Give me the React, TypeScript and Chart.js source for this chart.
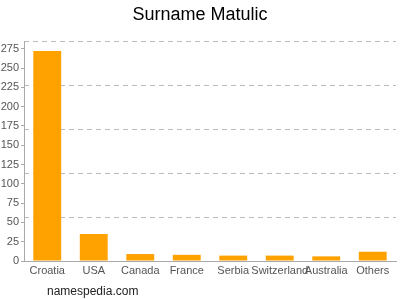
import React, { useEffect, useRef } from "react";
import { Chart, registerables } from "chart.js";

Chart.register(...registerables);

const categories = ["Croatia", "USA", "Canada", "France", "Serbia", "Switzerland", "Australia", "Others"];
const counts = [272, 35, 9, 8, 7, 7, 6, 12];
const yTicks = [0, 25, 50, 75, 100, 125, 150, 175, 200, 225, 250, 275];
const titleText = "Surname Matulic";
const footerText = "namespedia.com";

const FONT = "'Liberation Sans', Arial, Helvetica, sans-serif";

const textPlugin = {
  id: "texts",
  afterDraw(chart: any) {
    const ctx = chart.ctx;
    ctx.save();
    ctx.fillStyle = "#000";
    ctx.font = `18px ${FONT}`;
    ctx.textAlign = "center";
    ctx.textBaseline = "middle";
    ctx.fillText(titleText, 200, 15);
    ctx.fillStyle = "#222";
    ctx.font = `12px ${FONT}`;
    ctx.textAlign = "left";
    ctx.fillText(footerText, 47, 292);
    ctx.restore();
  },
};

export default function App() {
  const ref = useRef<HTMLCanvasElement>(null);
  useEffect(() => {
    document.body.style.margin = "0";
    const chart = new Chart(ref.current!, {
      type: "bar",
      data: {
        labels: categories,
        datasets: [
          {
            data: counts,
            backgroundColor: "#ffa200",
            borderWidth: 0,
            categoryPercentage: 0.6,
            barPercentage: 1,
            yAxisID: "y",
          },
        ],
      },
      options: {
        animation: false,
        responsive: false,
        layout: { padding: { top: 41, left: 0, right: 4, bottom: 19 } },
        plugins: { legend: { display: false }, title: { display: false }, tooltip: { enabled: false } },
        scales: {
          x: {
            grid: { display: false, drawTicks: false },
            border: { display: true, color: "#aaa" },
            ticks: { color: "#555", font: { family: FONT, size: 11 }, padding: 3, maxRotation: 0, autoSkip: false },
            afterFit(s: any) { s.height = 20; },
          },
          y: {
            position: "left",
            min: 0,
            max: 285,
            grid: { drawOnChartArea: false, tickLength: 3, color: "#aaa" },
            border: { display: true, color: "#aaa" },
            ticks: { color: "#555", font: { family: FONT, size: 11 }, padding: 2 },
            afterBuildTicks(s: any) { s.ticks = yTicks.map((v) => ({ value: v })); },
            afterFit(s: any) { s.width = 24; },
          },
          g: {
            position: "right",
            min: 0,
            max: 5,
            ticks: { display: false, stepSize: 1 },
            border: { display: false, dash: [5, 4] },
            grid: { color: "#bbb", lineWidth: 1, drawTicks: false },
            afterFit(s: any) { s.width = 0; },
          },
        },
      },
      plugins: [textPlugin],
    } as any);
    return () => chart.destroy();
  }, []);
  return (
    <div style={{ position: "absolute", left: 0, top: 0, width: 400, height: 300 }}>
      <canvas ref={ref} width={400} height={300} style={{ width: 400, height: 300 }} />
    </div>
  );
}
